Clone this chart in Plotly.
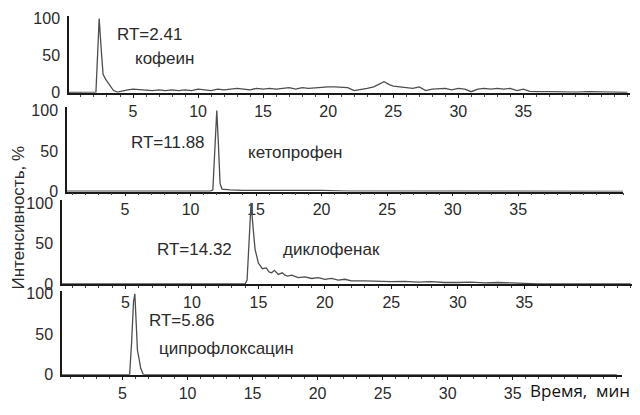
import plotly.graph_objects as go

# кофеин
caf_t = [0.0, 0.5, 1.0, 1.3, 1.6, 2.0, 2.15, 2.3, 2.4, 2.55, 2.7, 2.9, 3.2, 3.5, 3.8,
         4.2, 4.6, 5.0, 5.5, 6.0, 6.5, 7.0, 7.5, 8.0, 8.5, 9.0, 9.5, 10.0, 10.5, 11.0,
         11.5, 12.0, 12.5, 13.0, 13.5, 14.0, 14.5, 15.0, 15.5, 16.0, 16.5, 17.0, 17.5,
         18.0, 18.5, 19.0, 19.5, 20.0, 20.5, 21.0, 21.5, 22.0, 22.5, 23.0, 23.5, 24.0,
         24.3, 24.7, 25.0, 25.5, 26.0, 26.5, 27.0, 27.5, 28.0, 28.5, 29.0, 29.5, 30.0,
         30.5, 31.0, 31.5, 32.0, 32.5, 33.0, 33.5, 34.0, 34.5, 35.0, 35.5, 36.0, 37.0,
         38.0, 39.0, 40.0, 41.0, 42.0, 43.0]
caf_i = [0.5, 0.5, 0.8, 1.5, 0.5, 0.5, 1, 60, 100, 60, 25, 18, 10, 3, 1,
         3, 4, 5, 4, 4, 3, 4, 3, 4, 3, 4, 3, 5, 4, 3,
         5, 4, 5, 6, 5, 4, 6, 5, 6, 5, 6, 7, 5,
         7, 6, 7, 7, 8, 8, 7, 7, 3, 4, 6, 8, 13,
         15, 11, 9, 8, 7, 6, 8, 3, 5, 5, 6, 4, 6,
         5, 1.5, 5, 6, 5, 6, 5, 6, 3, 5, 2, 1.5, 1.5,
         1, 1, 1.5, 1, 1, 0.5]

# кетопрофен
ket_t = [0.0, 5.0, 11.5, 11.7, 11.85, 12.0, 12.12, 12.25, 12.4, 13.0, 14.0, 15.0, 16.0,
         18.0, 20.0, 22.0, 25.0, 30.0, 35.0, 40.0, 43.0]
ket_i = [0.3, 0.3, 0.3, 2, 50, 100, 60, 10, 3, 2, 1.5, 1.5, 1,
         1, 1.5, 0.5, 0.5, 0.3, 0.3, 0.3, 0.2]

# диклофенак
dic_t = [0.0, 5.0, 10.0, 14.0, 14.15, 14.3, 14.45, 14.6, 14.75, 15.0, 15.3, 15.6, 15.8,
         16.0, 16.2, 16.5, 16.8, 17.0, 17.2, 17.5, 18.0, 18.5, 19.0, 19.5, 20.0, 20.5,
         21.0, 21.5, 22.0, 23.0, 24.0, 25.0, 26.0, 27.0, 28.0, 29.0, 30.0, 31.0, 32.0,
         33.0, 34.0, 35.0, 36.0, 38.0, 40.0, 43.0]
dic_i = [0.2, 0.2, 0.2, 0.3, 5, 60, 100, 70, 43, 26, 19, 20, 15,
         14, 17, 12, 14, 11, 10, 11, 8, 9, 7, 8, 6, 7,
         5, 6, 4, 4, 3.5, 3, 3.5, 2.5, 3, 2, 2, 2.5, 1.5,
         2, 1.5, 1, 0.3, 0.3, 0.3, 0.3]

# ципрофлоксацин
cip_t = [0.0, 5.0, 5.55, 5.7, 5.85, 5.95, 6.05, 6.15, 6.25, 6.4, 6.6, 7.0, 10.0,
         20.0, 30.0, 43.0]
cip_i = [0.2, 0.2, 0.3, 40, 90, 100, 70, 30, 22, 8, 0.5, 0.2, 0.2,
         0.2, 0.2, 0.2]

panels = [
    (caf_t, caf_i, "RT=2.41", "кофеин", (6.3, 78), (7.4, 46)),
    (ket_t, ket_i, "RT=11.88", "кетопрофен", (8.3, 60), (18.0, 48)),
    (dic_t, dic_i, "RT=14.32", "диклофенак", (10.2, 43), (20.5, 43)),
    (cip_t, cip_i, "RT=5.86", "ципрофлоксацин", (9.5, 67), (13.0, 33)),
]

x_ticks = [5, 10, 15, 20, 25, 30, 35]
y_ticks = [0, 50, 100]

# page body has an 8px margin on every side; keep the page inside the window
OFF = 8
W, H = 640 - 2 * OFF, 415 - 2 * OFF
# screen pixel boxes for each panel: left, right, baseline, px per 1 %, x-range
boxes = [
    (69, 630, 90.7, 0.77, [0.08, 43.2]),
    (67, 623, 193, 0.84, [0.57, 43.0]),
    (62, 632, 289, 0.84, [0.23, 43.1]),
    (62, 622, 383, 0.84, [0.35, 43.4]),
]
y_top = 104


def px(x):
    return (x - OFF) / W


def py(y):
    return 1 - (y - OFF) / H


fig = go.Figure()
font = dict(family="Liberation Sans, Arial", size=16, color="#2a2a2a")
annotations = []

for k, ((t, inten, rt, name, rt_pos, name_pos), (left, right, base, ppu, xr)) in enumerate(zip(panels, boxes)):
    n = "" if k == 0 else str(k + 1)
    top = base - y_top * ppu
    fig.add_trace(go.Scatter(x=t, y=inten, mode="lines",
                             line=dict(color="#4d4d4d", width=1.3),
                             xaxis="x" + n, yaxis="y" + n, showlegend=False))
    fig.layout["xaxis" + n] = dict(
        domain=[px(left), min(px(right), 1)], range=xr, anchor="y" + n,
        showline=True, linecolor="#1a1a1a", linewidth=1.5,
        showgrid=False, zeroline=False,
        tickvals=x_ticks, ticks="outside", ticklen=3, tickcolor="#1a1a1a",
        minor=dict(dtick=1, ticks="outside", ticklen=2, tickcolor="#444"),
        tickfont=font,
    )
    fig.layout["yaxis" + n] = dict(
        domain=[py(base), min(py(top), 1)], range=[0, y_top], anchor="x" + n,
        showline=True, linecolor="#1a1a1a", linewidth=1.5,
        showgrid=False, zeroline=False,
        tickvals=y_ticks, ticks="", tickfont=font, ticklabelstandoff=4,
    )
    annotations.append(dict(x=rt_pos[0], y=rt_pos[1], xref="x" + n, yref="y" + n,
                            text=rt, showarrow=False,
                            font=dict(family="Liberation Sans, Arial", size=17, color="#2a2a2a")))
    annotations.append(dict(x=name_pos[0], y=name_pos[1], xref="x" + n, yref="y" + n,
                            text=name, showarrow=False,
                            font=dict(family="Liberation Sans, Arial", size=17, color="#2a2a2a")))

annotations.append(dict(x=px(19), y=py(220), xref="paper", yref="paper",
                        xanchor="center", yanchor="middle",
                        text="Интенсивность, %", textangle=-90, showarrow=False,
                        font=dict(family="Liberation Sans, Arial", size=17, color="#2a2a2a")))
annotations.append(dict(x=1.0, y=py(399), xref="paper", yref="paper",
                        xanchor="right", yanchor="middle", text="Время,  мин", showarrow=False,
                        font=dict(family="Open Sans", size=17, color="#111")))

fig.update_layout(width=W, height=H, margin=dict(l=0, r=0, t=0, b=0),
                  plot_bgcolor="white", paper_bgcolor="white",
                  annotations=annotations)

fig.write_html("out.html")
